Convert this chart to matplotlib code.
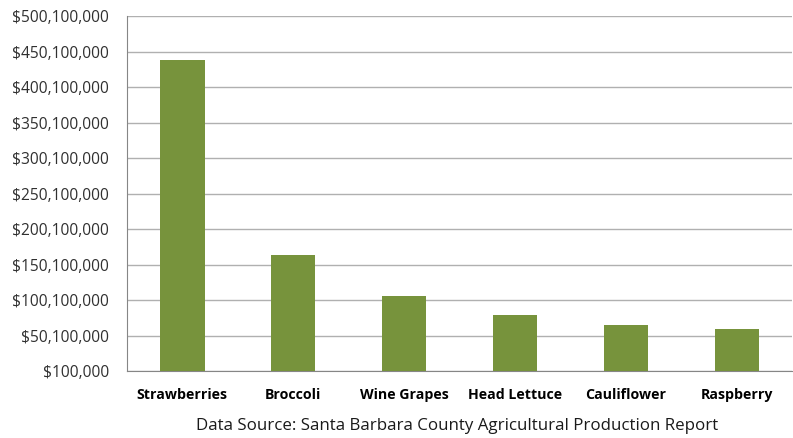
import numpy as np
import matplotlib.pyplot as plt
from matplotlib.ticker import FuncFormatter

# Crop values, Santa Barbara County
crops = ['Strawberries', 'Broccoli', 'Wine Grapes', 'Head Lettuce', 'Cauliflower', 'Raspberry']
values = [437800000, 163800000, 106100000, 79800000, 65700000, 59600000]

y_min = 100000
y_max = 500100000
y_ticks = np.arange(y_min, y_max + 1, 50000000)

fig = plt.figure(figsize=(7.93, 4.38), dpi=100)
ax = fig.add_axes([0.160, 0.152, 0.839, 0.8115])

x = np.arange(len(crops))
ax.bar(x, values, width=0.4, color='#77933C', zorder=3)

ax.set_xlim(-0.5, len(crops) - 0.5)
ax.set_ylim(y_min, y_max)
ax.set_yticks(y_ticks)
ax.yaxis.set_major_formatter(FuncFormatter(lambda v, p: '${:,.0f}'.format(v)))
ax.set_xticks(x)
ax.set_xticklabels(crops, fontfamily='Open Sans', fontweight='bold', fontsize=10.2)
for lbl in ax.get_yticklabels():
    lbl.set_fontfamily('Open Sans')
    lbl.set_fontsize(11.2)
    lbl.set_color('#303030')

ax.grid(axis='y', color='#B0B0B0', linewidth=1, zorder=0)
ax.tick_params(axis='both', length=0)
ax.tick_params(axis='x', pad=12)
ax.tick_params(axis='y', pad=13)
for s in ['top', 'right']:
    ax.spines[s].set_visible(False)
for s in ['left', 'bottom']:
    ax.spines[s].set_color('#868686')

fig.text(0.576, 0.008, 'Data Source: Santa Barbara County Agricultural Production Report',
         ha='center', va='bottom', fontfamily='Open Sans', fontsize=12.2, color='#1a1a1a')

fig.savefig('out.png', dpi=100)
